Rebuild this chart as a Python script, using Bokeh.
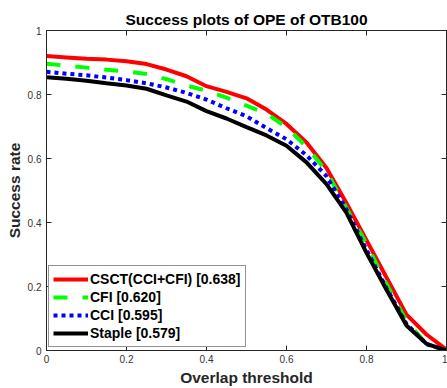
from bokeh.plotting import figure
from bokeh.models import LinearAxis, FixedTicker, Range1d, Legend, LegendItem
from bokeh.embed import file_html
from bokeh.resources import INLINE

# Overlap thresholds and success rates for each tracker
thresholds = [0.00, 0.05, 0.10, 0.15, 0.20, 0.25, 0.30, 0.35, 0.40, 0.45, 0.50,
              0.55, 0.60, 0.65, 0.70, 0.75, 0.80, 0.85, 0.90, 0.95, 1.00]

csct = [0.920, 0.916, 0.912, 0.909, 0.904, 0.895, 0.878, 0.857, 0.826, 0.808, 0.788,
        0.753, 0.708, 0.650, 0.570, 0.460, 0.345, 0.228, 0.112, 0.050, 0.003]
cfi = [0.896, 0.890, 0.884, 0.877, 0.872, 0.864, 0.848, 0.828, 0.812, 0.790, 0.765,
       0.740, 0.698, 0.637, 0.560, 0.445, 0.333, 0.208, 0.092, 0.020, 0.000]
cci = [0.871, 0.865, 0.860, 0.853, 0.845, 0.835, 0.822, 0.805, 0.784, 0.757, 0.732,
       0.695, 0.660, 0.610, 0.545, 0.440, 0.315, 0.195, 0.083, 0.020, 0.000]
staple = [0.854, 0.849, 0.843, 0.835, 0.828, 0.818, 0.797, 0.778, 0.748, 0.725, 0.698,
          0.672, 0.640, 0.588, 0.520, 0.430, 0.305, 0.190, 0.078, 0.021, 0.000]

series_labels = ["CSCT(CCI+CFI) [0.638]", "CFI [0.620]", "CCI [0.595]", "Staple [0.579]"]
tick_values = [0, 0.2, 0.4, 0.6, 0.8, 1]
tick_labels = ["0", "0.2", "0.4", "0.6", "0.8", "1"]

FONT = "Liberation Sans"
AXIS_COLOR = "#262626"

p = figure(frame_width=400, frame_height=320,
           min_border_left=46, min_border_right=1,
           min_border_top=30, min_border_bottom=38,
           x_range=Range1d(0, 1), y_range=Range1d(0, 1),
           output_backend="svg", toolbar_location=None,
           title="Success plots of OPE of OTB100")

p.title.align = "center"
p.title.text_font = FONT
p.title.text_font_size = "15.5px"
p.title.text_font_style = "bold"
p.title.text_color = "black"
p.title.standoff = 6

p.grid.visible = False
p.outline_line_color = AXIS_COLOR
p.background_fill_color = "white"
p.border_fill_color = "white"


def style_axis(ax, show_labels=True):
    ax.ticker = FixedTicker(ticks=tick_values)
    ax.axis_line_color = AXIS_COLOR
    ax.major_tick_line_color = AXIS_COLOR
    ax.major_tick_in = 5
    ax.major_tick_out = 0
    ax.minor_tick_line_color = None
    ax.major_label_text_font = FONT
    ax.major_label_text_font_size = "10px"
    ax.major_label_text_color = "#333333"
    ax.axis_label_text_font = FONT
    ax.axis_label_text_font_size = "15.5px"
    ax.axis_label_text_font_style = "bold"
    ax.axis_label_text_color = "#262626"
    if show_labels:
        ax.major_label_overrides = {v: t for v, t in zip(tick_values, tick_labels)}
    else:
        # mirrored box axes: tick marks only
        ax.major_label_overrides = {v: "" for v in tick_values}
        ax.major_label_text_color = None
        ax.major_label_standoff = 0


p.xaxis.axis_label = "Overlap threshold"
p.yaxis.axis_label = "Success rate"
style_axis(p.xaxis[0])
style_axis(p.yaxis[0])
p.xaxis.major_label_standoff = 4
p.yaxis.major_label_standoff = 5
p.xaxis.axis_label_standoff = 3
p.yaxis.axis_label_standoff = 2

top_axis = LinearAxis()
right_axis = LinearAxis()
style_axis(top_axis, show_labels=False)
style_axis(right_axis, show_labels=False)
p.add_layout(top_axis, "above")
p.add_layout(right_axis, "right")

r_csct = p.line(thresholds, csct, line_color="#ff0000", line_width=4)
r_cfi = p.line(thresholds, cfi, line_color="#00ff00", line_width=4, line_dash="14 15")
r_cci = p.line(thresholds, cci, line_color="#0000ff", line_width=4, line_dash="4 4")
r_staple = p.line(thresholds, staple, line_color="black", line_width=4)

legend = Legend(items=[LegendItem(label=lab, renderers=[r])
                       for lab, r in zip(series_labels, [r_csct, r_cfi, r_cci, r_staple])],
                location=(2, 3))
legend.label_text_font = FONT
legend.label_text_font_size = "14px"
legend.label_text_font_style = "bold"
legend.label_text_color = "black"
legend.glyph_width = 35
legend.glyph_height = 18
legend.label_height = 18
legend.label_standoff = 2
legend.spacing = 0
legend.padding = 4
legend.margin = 0
legend.border_line_color = AXIS_COLOR
legend.border_line_width = 1
legend.background_fill_color = "white"
legend.background_fill_alpha = 1
p.add_layout(legend, "center")

open("out.html", "w").write(file_html(p, INLINE))
